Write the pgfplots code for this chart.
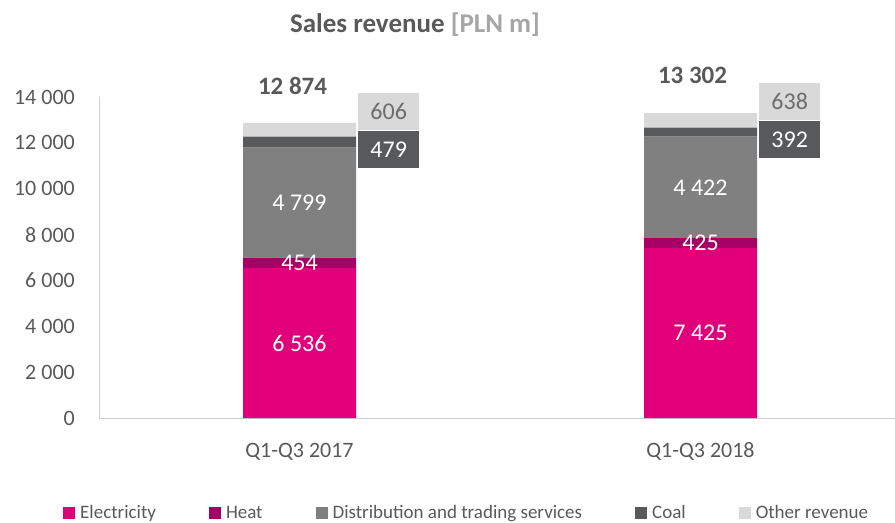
\documentclass[border=0pt]{standalone}
\usepackage{fontspec}
\setmainfont{Carlito}
\usepackage{pgfplots}
\pgfplotsset{compat=1.18}
\definecolor{elec}{HTML}{E2007A}
\definecolor{heat}{HTML}{A50064}
\definecolor{dist}{HTML}{808080}
\definecolor{coal}{HTML}{58595B}
\definecolor{other}{HTML}{D9D9D9}
\definecolor{txt}{HTML}{595959}
\definecolor{ltxt}{HTML}{A6A6A6}
\definecolor{boxtxt}{HTML}{6D6D6D}
\definecolor{axisgray}{HTML}{D0D0D0}
\pgfplotsset{sqlegend/.style={legend image code/.code={\fill[##1] (0bp,-6bp) rectangle (12bp,6bp);}}}
\tikzset{seglab/.style={font=\fontsize{24bp}{24bp}\selectfont, text=white, inner sep=0pt},
  boxlab/.style={font=\fontsize{24bp}{24bp}\selectfont, inner sep=0pt, minimum width=61bp, minimum height=37bp, xshift=58.5bp}}
\begin{document}
\begin{tikzpicture}
\useasboundingbox (0,0) rectangle (895bp,523bp);
\begin{axis}[
  at={(99bp,105bp)}, anchor=south west,
  scale only axis, width=796bp, height=321bp,
  xmin=-0.5, xmax=1.485, ymin=0, ymax=14000,
  clip=false,
  ybar stacked, bar width=113bp,
  axis x line*=bottom, axis y line*=left,
  axis line style={draw=axisgray, line width=0.8bp},
  xtick={0,1}, xticklabels={Q1-Q3 2017, Q1-Q3 2018},
  ytick={0,2000,4000,6000,8000,10000,12000,14000},
  yticklabels={0,2 000,4 000,6 000,8 000,10 000,12 000,14 000},
  scaled y ticks=false,
  major tick length=0pt,
  yticklabel style={font=\fontsize{22bp}{22bp}\selectfont, text=txt, inner sep=0pt, anchor=east, xshift=-24bp},
  xticklabel style={font=\fontsize{22bp}{22bp}\selectfont, text=txt, inner sep=0pt, anchor=base, yshift=-39bp},
  legend columns=5,
  sqlegend,
  legend style={draw=none, fill=none, at={(0,0)}, anchor=west, xshift=-36bp, yshift=-95bp,
    font=\fontsize{19bp}{19bp}\selectfont, text=txt, inner sep=0pt,
    /tikz/every odd column/.append style={column sep=3bp},
    /tikz/every even column/.append style={column sep=51bp}},
]
\addplot[fill=elec, draw=none] coordinates {(0,6536) (1,7425)};
\addlegendentry{Electricity}
\addplot[fill=heat, draw=none] coordinates {(0,454) (1,425)};
\addlegendentry{Heat}
\addplot[fill=dist, draw=none] coordinates {(0,4799) (1,4422)};
\addlegendentry{Distribution and trading services}
\addplot[fill=coal, draw=none] coordinates {(0,479) (1,392)};
\addlegendentry{Coal}
\addplot[fill=other, draw=none] coordinates {(0,606) (1,638)};
\addlegendentry{Other revenue}

\coordinate (e0) at (axis cs:0,3268);
\coordinate (h0) at (axis cs:0,6763);
\coordinate (d0) at (axis cs:0,9389.5);
\coordinate (t0) at (axis cs:0,12874);
\coordinate (e1) at (axis cs:1,3712.5);
\coordinate (h1) at (axis cs:1,7637.5);
\coordinate (d1) at (axis cs:1,10061);
\coordinate (t1) at (axis cs:1,13302);
\end{axis}
\node[seglab] at (e0) {6 536};
\node[seglab] at (h0) {454};
\node[seglab] at (d0) {4 799};
\node[seglab] at (e1) {7 425};
\node[seglab] at (h1) {425};
\node[seglab] at (d1) {4 422};

\node[boxlab, fill=other, text=boxtxt, anchor=south west, yshift=-7bp] at (t0) {606};
\node[boxlab, fill=coal, text=white, anchor=north west, yshift=-8bp] at (t0) {479};
\node[boxlab, fill=other, text=boxtxt, anchor=south west, yshift=-7bp] at (t1) {638};
\node[boxlab, fill=coal, text=white, anchor=north west, yshift=-8bp] at (t1) {392};

\node[font=\bfseries\fontsize{25bp}{25bp}\selectfont, text=txt, xshift=-7bp, yshift=37bp] at (t0) {12 874};
\node[font=\bfseries\fontsize{25bp}{25bp}\selectfont, text=txt, xshift=-8bp, yshift=38bp] at (t1) {13 302};

\node[font=\bfseries\fontsize{27bp}{27bp}\selectfont] at (415bp,498bp) {\textcolor{txt}{Sales revenue} \textcolor{ltxt}{[PLN m]}};
\end{tikzpicture}
\end{document}
